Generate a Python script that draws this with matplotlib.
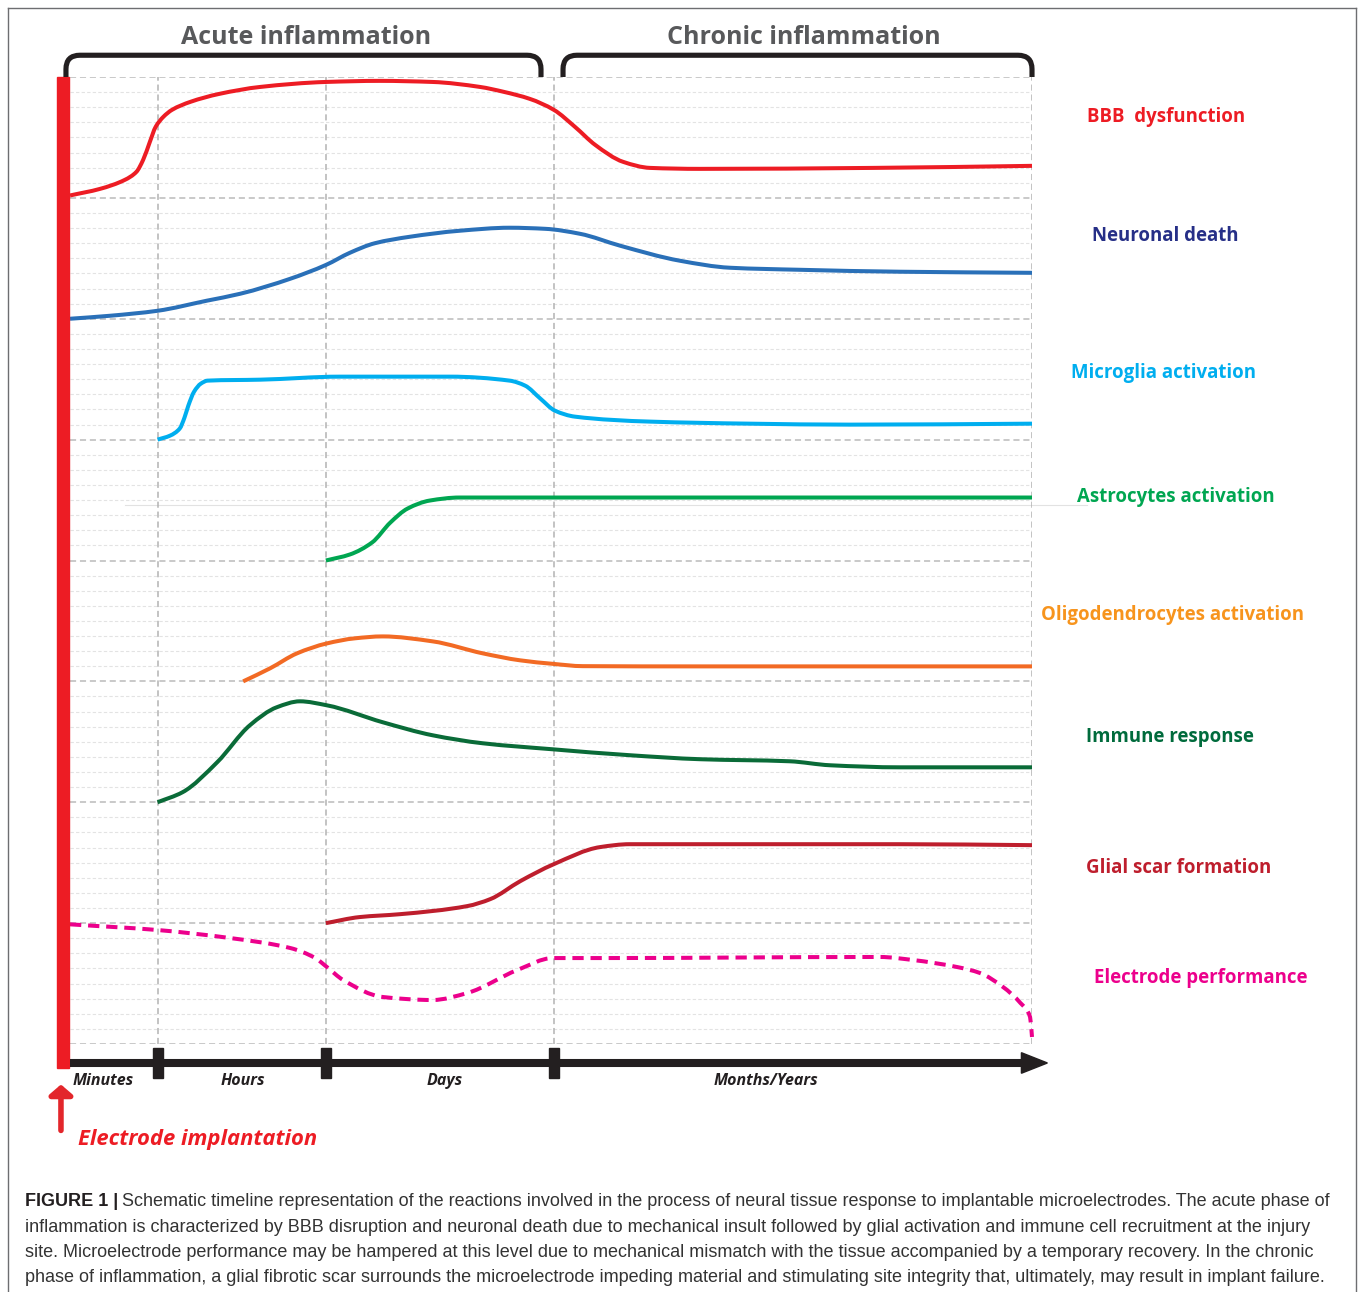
import matplotlib
matplotlib.use('Agg')
import matplotlib.pyplot as plt
from matplotlib.patches import Rectangle, Polygon, PathPatch
from matplotlib.path import Path

# ---------------- data ----------------
phase_names = ['Minutes', 'Hours', 'Days', 'Months/Years']
phase_edges = [0, 9.15, 26.6, 50.3, 100]          # % of timeline
phase_titles = ['Acute inflammation', 'Chronic inflammation']

series_names = ['BBB  dysfunction', 'Neuronal death', 'Microglia activation',
                'Astrocytes activation', 'Oligodendrocytes activation',
                'Immune response', 'Glial scar formation', 'Electrode performance']

# x in % of the timeline, y = level inside each row (0 = row bottom, 1 = row top)
bbb_x = [0, 3.1, 5.7, 6.9, 7.6, 8.3, 8.9, 9.7, 10.6, 12.5, 15.5, 19.8, 26.6, 32.2,
         37.7, 42.6, 45.1, 47.8, 50.3, 52.5, 54.6, 57.5, 60.3, 65.5, 83.5, 100]
bbb_y = [0.02, 0.074, 0.149, 0.215, 0.314, 0.463, 0.587, 0.670, 0.728, 0.794, 0.860,
         0.918, 0.959, 0.968, 0.959, 0.918, 0.877, 0.819, 0.728, 0.587, 0.438, 0.298,
         0.248, 0.240, 0.248, 0.265]

neuro_x = [0, 4.2, 9.1, 14.2, 17.7, 22.9, 26.6, 29.1, 31.7, 35.3, 40.5, 45.7, 49.4,
           53.0, 57.2, 63.4, 68.6, 75.9, 86.3, 100]
neuro_y = [0, 0.025, 0.066, 0.149, 0.207, 0.331, 0.445, 0.546, 0.625, 0.678, 0.728,
           0.753, 0.744, 0.703, 0.604, 0.480, 0.422, 0.405, 0.389, 0.380]

micro_x = [9.1, 10.4, 11.4, 11.9, 12.3, 12.9, 13.6, 14.3, 19.8, 28.1, 39.5, 45.7,
           47.3, 48.9, 50.4, 52.5, 60.3, 70.7, 81.1, 100]
micro_y = [0, 0.033, 0.091, 0.182, 0.281, 0.397, 0.463, 0.488, 0.496, 0.521, 0.521,
           0.488, 0.447, 0.339, 0.240, 0.190, 0.149, 0.132, 0.124, 0.132]

astro_x = [26.6, 29.1, 31.4, 33.3, 35.1, 37.4, 40.5, 55.1, 100]
astro_y = [0, 0.050, 0.149, 0.314, 0.430, 0.496, 0.521, 0.521, 0.521]

oligo_x = [18.0, 20.8, 23.6, 26.7, 29.6, 32.5, 37.7, 42.9, 46.8, 50.2, 53.3, 65.5, 100]
oligo_y = [0, 0.108, 0.232, 0.314, 0.356, 0.372, 0.331, 0.232, 0.174, 0.145, 0.126,
           0.124, 0.124]

immune_x = [9.1, 11.7, 15.3, 18.7, 21.5, 23.9, 26.7, 32.5, 37.7, 42.9, 50.2, 58.2,
            65.5, 74.8, 79.0, 86.3, 100]
immune_y = [0, 0.083, 0.331, 0.637, 0.786, 0.835, 0.802, 0.662, 0.554, 0.488, 0.438,
            0.389, 0.356, 0.339, 0.306, 0.289, 0.289]

glial_x = [26.6, 30.1, 34.3, 41.3, 43.7, 46.8, 50.3, 55.1, 58.2, 65.5, 86.3, 100]
glial_y = [0, 0.050, 0.074, 0.141, 0.199, 0.347, 0.488, 0.629, 0.653, 0.653, 0.653,
           0.645]

electrode_x = [0, 9.1, 16.6, 22.9, 25.5, 26.7, 28.4, 32.5, 37.7, 41.3, 46.5, 50.2,
               55.1, 84.2, 87.6, 92.2, 94.6, 97.0, 98.8, 99.8, 100]
electrode_y = [0.99, 0.943, 0.877, 0.794, 0.711, 0.637, 0.529, 0.389, 0.364, 0.422,
               0.612, 0.711, 0.711, 0.720, 0.695, 0.637, 0.587, 0.471, 0.339, 0.223,
               0.058]

caption_bold = 'FIGURE 1 |'
caption_lines = [
    'Schematic timeline representation of the reactions involved in the process of neural tissue response to implantable microelectrodes. The acute phase of',
    'inflammation is characterized by BBB disruption and neuronal death due to mechanical insult followed by glial activation and immune cell recruitment at the injury',
    'site. Microelectrode performance may be hampered at this level due to mechanical mismatch with the tissue accompanied by a temporary recovery. In the chronic',
    'phase of inflammation, a glial fibrotic scar surrounds the microelectrode impeding material and stimulating site integrity that, ultimately, may result in implant failure.',
]
implant_label = 'Electrode implantation'

# ---------------- styles ----------------
curve_colors = ['#ED1C24', '#2A70B8', '#00AEEF', '#00A651', '#F26A24', '#0A6B38',
                '#BE1E2D', '#EC008C']
label_colors = ['#ED1C24', '#262F87', '#00AEEF', '#00A651', '#F7941D', '#006B3C',
                '#BE1E2D', '#EC008C']
BOLD = ['Open Sans', 'DejaVu Sans']

W, H, DPI = 1358, 1292, 100
fig = plt.figure(figsize=(W / DPI, H / DPI), dpi=DPI)
fig.patch.set_facecolor('white')

# frame around figure
frame = fig.add_axes([8 / W, -0.01, (1356 - 8) / W, 1 - 8 / H + 0.01])
frame.set_xticks([]); frame.set_yticks([])
frame.patch.set_alpha(0)
for s in ['left', 'right', 'top']:
    frame.spines[s].set_color('#6D6E71'); frame.spines[s].set_linewidth(1.0)
frame.spines['bottom'].set_visible(False)

ax = fig.add_axes([70 / W, 1 - 1044 / H, 962 / W, 967 / H])
ax.set_xlim(0, 100)
ax.set_ylim(0, 8)
ax.axis('off')


def smooth_path(xs, ys):
    """Monotone cubic (Fritsch-Butland) Bezier path through the given points."""
    n = len(xs)
    h = [xs[i + 1] - xs[i] for i in range(n - 1)]
    d = [(ys[i + 1] - ys[i]) / h[i] for i in range(n - 1)]
    m = [0.0] * n
    m[0], m[-1] = d[0], d[-1]
    for i in range(1, n - 1):
        if d[i - 1] * d[i] <= 0:
            m[i] = 0.0
        else:
            h0, h1 = h[i - 1], h[i]
            m[i] = 3 * (h0 + h1) / ((2 * h1 + h0) / d[i - 1] + (h1 + 2 * h0) / d[i])
    verts = [(xs[0], ys[0])]
    codes = [Path.MOVETO]
    for i in range(n - 1):
        verts += [(xs[i] + h[i] / 3, ys[i] + m[i] * h[i] / 3),
                  (xs[i + 1] - h[i] / 3, ys[i + 1] - m[i + 1] * h[i] / 3),
                  (xs[i + 1], ys[i + 1])]
        codes += [Path.CURVE4] * 3
    return Path(verts, codes)


n_rows = len(series_names)
# minor grid
for r in range(n_rows):
    for k in range(1, 8):
        ax.axhline(r + k / 8, color='#E3E3E3', lw=0.8, ls=(0, (3, 2)), zorder=1)
# major grid
for r in range(n_rows + 1):
    ax.axhline(r, color='#BBBBBB', lw=1.1, ls=(0, (4, 2.5)), zorder=2)
for e in phase_edges[1:]:
    ax.axvline(e, color='#B3B3B3', lw=1.1, ls=(0, (4, 2.5)), zorder=2)
# faint stray line at astrocytes row
ax.plot([5.7, 105.7], [4.46, 4.46], color='#E2E2E2', lw=0.8, clip_on=False, zorder=1)

series = [(bbb_x, bbb_y), (neuro_x, neuro_y), (micro_x, micro_y), (astro_x, astro_y),
          (oligo_x, oligo_y), (immune_x, immune_y), (glial_x, glial_y),
          (electrode_x, electrode_y)]
label_pos = [(113.9, 0.67), (113.9, 0.686), (113.7, 0.554), (115.0, 0.529),
             (114.6, 0.546), (114.3, 0.538), (115.2, 0.455), (117.5, 0.546)]
for i, ((xs, ys), name) in enumerate(zip(series, series_names)):
    base = n_rows - 1 - i
    yy = [base + v for v in ys]
    ls = (0, (2.8, 1.7)) if i == n_rows - 1 else '-'
    patch = PathPatch(smooth_path(xs, yy), fill=False, ec=curve_colors[i], lw=2.9,
                      ls=ls, capstyle='butt', joinstyle='round', clip_on=False, zorder=5)
    ax.add_patch(patch)
    lx, ly = label_pos[i]
    ax.text(lx, base + ly, name, color=label_colors[i], fontsize=13.4, fontweight='bold',
            family=BOLD, ha='center', va='center', clip_on=False)

# red implantation bar
ax.add_patch(Rectangle((-1.35, -0.2), 1.25, 8.2, color='#ED1C24', clip_on=False, zorder=6))

# time axis arrow
ax.plot([0, 99.2], [-0.157, -0.157], color='#231F20', lw=5.8, solid_capstyle='butt',
        clip_on=False, zorder=6)
ax.add_patch(Polygon([[98.9, -0.157 + 0.085], [101.6, -0.157], [98.9, -0.157 - 0.085]],
                     closed=True, color='#231F20', clip_on=False, zorder=6))
for e in phase_edges[1:-1]:
    ax.add_patch(Rectangle((e - 0.55, -0.281), 1.1, 0.248, color='#231F20',
                           clip_on=False, zorder=7))
phase_label_x = [3.5, 18.0, 39.0, 72.3]
for name, px in zip(phase_names, phase_label_x):
    ax.text(px, -0.31, name, fontsize=11.5, fontweight='bold', fontstyle='italic',
            family=BOLD, color='#231F20', ha='center', va='center', clip_on=False)

# brackets
def bracket(x0, x1, ytop=8.18, ybot=8.0, rx=1.45, ry=0.115):
    verts = [(x0, ybot), (x0, ytop - ry), (x0, ytop), (x0 + rx, ytop),
             (x1 - rx, ytop), (x1, ytop), (x1, ytop - ry), (x1, ybot)]
    codes = [Path.MOVETO, Path.LINETO, Path.CURVE3, Path.CURVE3,
             Path.LINETO, Path.CURVE3, Path.CURVE3, Path.LINETO]
    ax.add_patch(PathPatch(Path(verts, codes), fill=False, lw=3.7, ec='#231F20',
                           capstyle='butt', clip_on=False, zorder=6))

bracket(-0.42, 48.96)
bracket(51.25, 100.0)
ax.text(24.5, 8.33, phase_titles[0], fontsize=18, fontweight='bold', family=BOLD,
        color='#58595B', ha='center', va='center', clip_on=False)
ax.text(76.3, 8.325, phase_titles[1], fontsize=18, fontweight='bold', family=BOLD,
        color='#58595B', ha='center', va='center', clip_on=False)

# electrode implantation arrow & label
ax.annotate('', xy=(-0.94, -0.335), xytext=(-0.94, -0.715),
            arrowprops=dict(arrowstyle='-|>,head_length=0.3,head_width=0.35',
                            lw=4.0, color='#E3262B', mutation_scale=20,
                            shrinkA=0, shrinkB=0), annotation_clip=False)
ax.text(13.3, -0.79, implant_label, fontsize=15.8, fontweight='bold', fontstyle='italic',
        family=['Liberation Sans Narrow', 'Open Sans', 'DejaVu Sans'], color='#ED1C24',
        ha='center', va='center', clip_on=False)

# caption
cap_y = [1206, 1231.5, 1257, 1282.5]
fig.canvas.draw()
r = fig.canvas.get_renderer()
tb = fig.text(25 / W, 1 - cap_y[0] / H, caption_bold, fontsize=13, fontweight='bold',
              family=['Liberation Sans', 'DejaVu Sans'], color='#231F20', va='baseline')
bb = tb.get_window_extent(r)
for k, line in enumerate(caption_lines):
    x0 = (bb.x1 + 4) / W if k == 0 else 25 / W
    fig.text(x0, 1 - cap_y[k] / H, line, fontsize=13,
             family=['Liberation Sans', 'DejaVu Sans'], color='#333333', va='baseline')

fig.savefig('out.png', dpi=DPI)
